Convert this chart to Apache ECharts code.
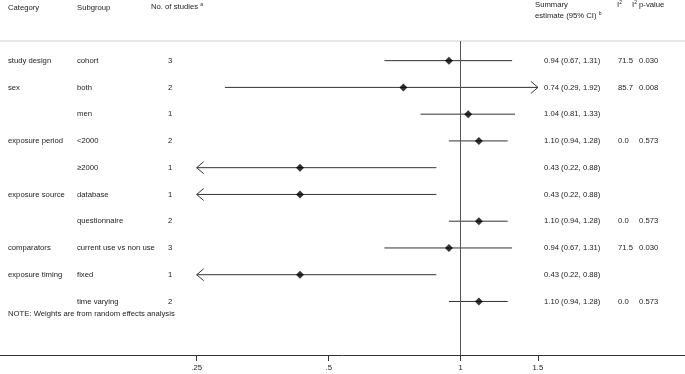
<!DOCTYPE html>
<html lang="en">
<head>
    <meta charset="UTF-8">
    <title>Forest plot</title>
    <script src="https://cdn.jsdelivr.net/npm/echarts@6/dist/echarts.min.js"></script>
    <style>
        * { margin: 0; padding: 0; }
        html, body { height: 100%; background: #fff; }
    </style>
</head>
<body>
<div id="main" style="width: 685px;height: 374px"></div>
<script>
    // data
    var categories = ['study design', 'sex', '', 'exposure period', '', 'exposure source', '', 'comparators', 'exposure timing', ''];
    var subgroups = ['cohort', 'both', 'men', '<2000', '≥2000', 'database', 'questionnaire', 'current use vs non use', 'fixed', 'time varying'];
    var nStudies = [3, 2, 1, 2, 1, 1, 2, 3, 1, 2];
    var estimate = [0.94, 0.74, 1.04, 1.10, 0.43, 0.43, 1.10, 0.94, 0.43, 1.10];
    var lower = [0.67, 0.29, 0.81, 0.94, 0.22, 0.22, 0.94, 0.67, 0.22, 0.94];
    var upper = [1.31, 1.92, 1.33, 1.28, 0.88, 0.88, 1.28, 1.31, 0.88, 1.28];
    var i2 = ['71.5', '85.7', '', '0.0', '', '', '0.0', '71.5', '', '0.0'];
    var i2p = ['0.030', '0.008', '', '0.573', '', '', '0.573', '0.030', '', '0.573'];
    var tickValues = [0.25, 0.5, 1, 1.5];
    var tickLabels = ['.25', '.5', '1', '1.5'];
    var displayMin = 0.25, displayMax = 1.5;   // CIs are cut (arrow) beyond this

    var txtColor = '#222';
    var fs = 7.7;
    var fam = '"Liberation Sans", Arial, sans-serif';

    function fmt(v) { return v.toFixed(2); }

    var ciData = lower.map(function (lo, i) { return [lo, upper[i], i]; });
    var pointData = estimate.map(function (e, i) { return [e, i]; });
    var rowData = estimate.map(function (e, i) { return [1, i]; });

    var myChart = echarts.init(document.getElementById('main'));

    function txt(x, y, s, align) {
        return {
            type: 'text', x: x, y: y,
            style: { text: s, fill: txtColor, fontSize: fs, fontFamily: fam, align: align || 'left', verticalAlign: 'middle' }
        };
    }

    var option = {
        backgroundColor: '#fff',
        animation: false,
        grid: { left: 0, right: 0, top: 41, bottom: 19 },
        xAxis: {
            type: 'log',
            logBase: 2,
            min: 0.089,
            max: 3.247,
            axisLine: { show: true, onZero: false, lineStyle: { color: '#333', width: 1 } },
            axisTick: { show: true, length: 6, customValues: tickValues, lineStyle: { color: '#333' } },
            axisLabel: {
                customValues: tickValues, margin: 9, color: txtColor, fontSize: fs, fontFamily: fam,
                formatter: function (v) {
                    var k = tickValues.indexOf(+v);
                    return k >= 0 ? tickLabels[k] : '';
                }
            },
            splitLine: { show: false },
            minorTick: { show: false }
        },
        yAxis: {
            type: 'value', inverse: true, min: -0.734, max: 11.0, show: false
        },
        graphic: [
            { type: 'line', shape: { x1: 0, y1: 41, x2: 685, y2: 41 }, style: { stroke: '#d0d0d0', lineWidth: 1 } },
            txt(8, 8, 'Category'),
            txt(77, 8, 'Subgroup'),
            {
                type: 'text', x: 151, y: 7,
                style: {
                    text: '{n|No. of studies }{s|a}', verticalAlign: 'middle',
                    rich: {
                        n: { fill: txtColor, fontSize: fs, fontFamily: fam },
                        s: { fill: txtColor, fontSize: 5, fontFamily: fam, padding: [0, 0, 5, 0] }
                    }
                }
            },
            txt(535, 5, 'Summary'),
            {
                type: 'text', x: 535, y: 16,
                style: {
                    text: '{n|estimate (95% CI) }{s|b}', verticalAlign: 'middle',
                    rich: {
                        n: { fill: txtColor, fontSize: fs, fontFamily: fam },
                        s: { fill: txtColor, fontSize: 5, fontFamily: fam, padding: [0, 0, 5, 0] }
                    }
                }
            },
            {
                type: 'text', x: 617, y: 5,
                style: {
                    text: '{n|I}{s|2}', verticalAlign: 'middle',
                    rich: {
                        n: { fill: txtColor, fontSize: fs, fontFamily: fam },
                        s: { fill: txtColor, fontSize: 5, fontFamily: fam, padding: [0, 0, 5, 0] }
                    }
                }
            },
            {
                type: 'text', x: 632, y: 5,
                style: {
                    text: '{n|I}{s|2}{n| p-value}', verticalAlign: 'middle',
                    rich: {
                        n: { fill: txtColor, fontSize: fs, fontFamily: fam },
                        s: { fill: txtColor, fontSize: 5, fontFamily: fam, padding: [0, 0, 5, 0] }
                    }
                }
            },
            txt(8, 314, 'NOTE: Weights are from random effects analysis')
        ],
        series: [
            {
                // text columns of the table
                type: 'custom',
                clip: false,
                silent: true,
                data: rowData,
                encode: { x: 0, y: 1 },
                renderItem: function (params, api) {
                    var i = params.dataIndex;
                    var y = api.coord([1, api.value(1)])[1];
                    var ch = [
                        txt(8, y, categories[i]),
                        txt(77, y, subgroups[i]),
                        txt(168, y, String(nStudies[i])),
                        txt(544, y, fmt(estimate[i]) + ' (' + fmt(lower[i]) + ', ' + fmt(upper[i]) + ')'),
                        txt(618, y, i2[i]),
                        txt(639, y, i2p[i])
                    ];
                    return { type: 'group', children: ch };
                }
            },
            {
                // confidence intervals, arrow where cut by the axis range
                type: 'custom',
                silent: true,
                clip: false,
                data: ciData,
                encode: { x: [0, 1], y: 2 },
                renderItem: function (params, api) {
                    var lo = api.value(0), hi = api.value(1), row = api.value(2);
                    var a = api.coord([Math.max(lo, displayMin), row]);
                    var b = api.coord([Math.min(hi, displayMax), row]);
                    var st = { stroke: '#333', lineWidth: 1, fill: null };
                    var ch = [{ type: 'line', shape: { x1: a[0], y1: a[1], x2: b[0], y2: b[1] }, style: st }];
                    if (lo < displayMin) {
                        ch.push({ type: 'polyline', shape: { points: [[a[0] + 7, a[1] - 6], [a[0], a[1]], [a[0] + 7, a[1] + 6]] }, style: st });
                    }
                    if (hi > displayMax) {
                        ch.push({ type: 'polyline', shape: { points: [[b[0] - 7, b[1] - 6], [b[0], b[1]], [b[0] - 7, b[1] + 6]] }, style: st });
                    }
                    return { type: 'group', children: ch };
                },
                markLine: {
                    silent: true,
                    symbol: 'none',
                    label: { show: false },
                    lineStyle: { color: '#555', width: 1, type: 'solid' },
                    data: [{ xAxis: 1 }]
                }
            },
            {
                type: 'scatter',
                silent: true,
                data: pointData,
                symbol: 'diamond',
                symbolSize: 8,
                itemStyle: { color: '#000' },
                z: 5
            }
        ]
    };

    myChart.setOption(option);
</script>
</body>
</html>
